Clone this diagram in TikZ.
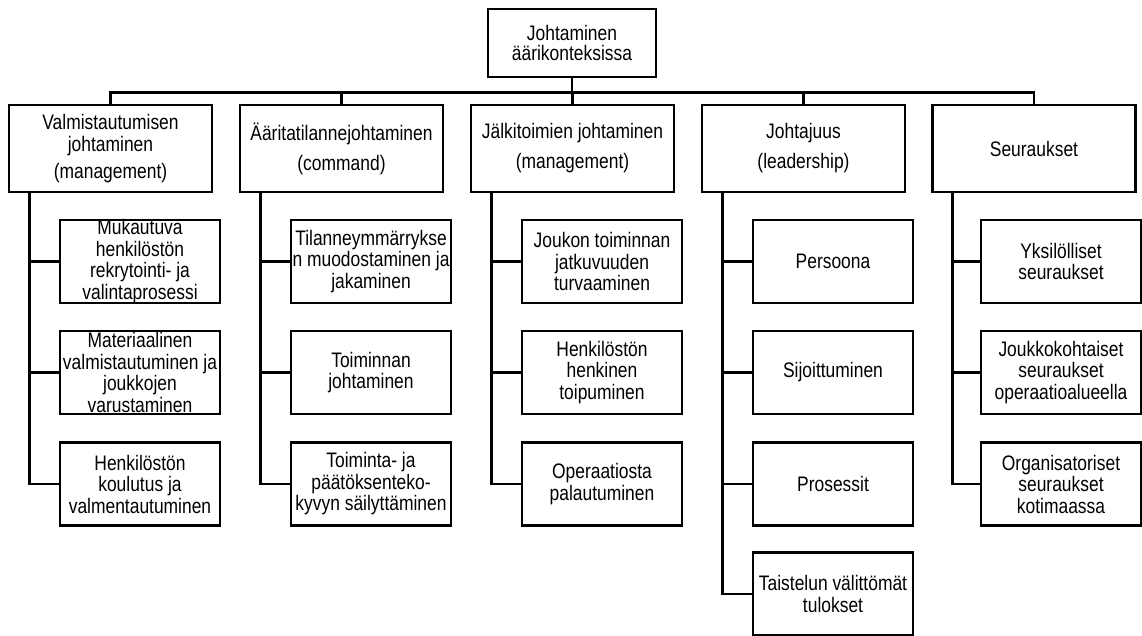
\documentclass[tikz,border=0pt]{standalone}
\usepackage{fontspec}
\setmainfont[FakeStretch=0.83]{Liberation Sans}
\begin{document}
\begin{tikzpicture}[x=1pt,y=-1pt,
  box/.style={draw=black, line width=2.8pt, inner sep=0pt, rectangle},
  topbox/.style={box, minimum width=168pt, minimum height=68pt},
  lvlbox/.style={box, minimum width=203pt, minimum height=87pt},
  leafbox/.style={box, minimum width=160pt, minimum height=83pt},
  txt/.style={inner sep=0pt, align=center, font=\fontsize{21}{21.5}\selectfont},
  conn/.style={line width=2.8pt, line join=miter}]
\useasboundingbox (0,0) rectangle (1142,636);
% root
\node[topbox] (root) at (572,43) {};
\node[txt, font=\fontsize{21}{19.5}\selectfont] (troot) at (root) {Johtaminen\\äärikonteksissa};
% level 1
\node[lvlbox] (b1) at (110.5,148.5) {};
\node[lvlbox] (b2) at (341.5,148.5) {};
\node[lvlbox] (b3) at (572.5,148.5) {};
\node[lvlbox] (b4) at (803.5,148.5) {};
\node[lvlbox] (b5) at (1034,148.5) {};
\node[txt] (tb1) at (b1) {Valmistautumisen\\johtaminen\\[5.5pt](management)};
\node[txt] (tb2) at (b2) {Ääritatilannejohtaminen\\[8.5pt](command)};
\node[txt] (tb3) at (b3) {Jälkitoimien johtaminen\\[8.5pt](management)};
\node[txt] (tb4) at (b4) {Johtajuus\\[8.5pt](leadership)};
\node[txt] (tb5) at (b5) {Seuraukset};
% leaves column 1
\node[leafbox] (c11) at (140,261.5) {};
\node[leafbox] (c12) at (140,372.5) {};
\node[leafbox] (c13) at (140,484) {};
\node[txt] (t11) at (c11) {Mukautuva\\henkilöstön\\rekrytointi- ja\\valintaprosessi};
\node[txt] (t12) at (c12) {Materiaalinen\\valmistautuminen ja\\joukkojen\\varustaminen};
\node[txt] (t13) at (c13) {Henkilöstön\\koulutus ja\\valmentautuminen};
% column 2
\node[leafbox] (c21) at (371,261.5) {};
\node[leafbox] (c22) at (371,372.5) {};
\node[leafbox] (c23) at (371,484) {};
\node[txt] (t21) at (c21) {Tilanneymmärrykse\\n muodostaminen ja\\jakaminen};
\node[txt] (t22) at (c22) {Toiminnan\\johtaminen};
\node[txt] (t23) at (c23) {Toiminta- ja\\päätöksenteko-\\kyvyn säilyttäminen};
% column 3
\node[leafbox] (c31) at (602,261.5) {};
\node[leafbox] (c32) at (602,372.5) {};
\node[leafbox] (c33) at (602,484) {};
\node[txt] (t31) at (c31) {Joukon toiminnan\\jatkuvuuden\\turvaaminen};
\node[txt] (t32) at (c32) {Henkilöstön\\henkinen\\toipuminen};
\node[txt] (t33) at (c33) {Operaatiosta\\palautuminen};
% column 4
\node[leafbox] (c41) at (833,261.5) {};
\node[leafbox] (c42) at (833,372.5) {};
\node[leafbox] (c43) at (833,484) {};
\node[leafbox] (c44) at (833,594) {};
\node[txt] (t41) at (c41) {Persoona};
\node[txt] (t42) at (c42) {Sijoittuminen};
\node[txt] (t43) at (c43) {Prosessit};
\node[txt] (t44) at (c44) {Taistelun välittömät\\tulokset};
% column 5
\node[leafbox] (c51) at (1061,261.5) {};
\node[leafbox] (c52) at (1061,372.5) {};
\node[leafbox] (c53) at (1061,484) {};
\node[txt] (t51) at (c51) {Yksilölliset\\seuraukset};
\node[txt] (t52) at (c52) {Joukkokohtaiset\\seuraukset\\operaatioalueella};
\node[txt] (t53) at (c53) {Organisatoriset\\seuraukset\\kotimaassa};
% root to level 1
\foreach \b in {b1,b2,b3,b4,b5}
  \draw[conn] (root.south) -- ++(0,14) -| (\b.north);
% level 1 to leaves
\foreach \p/\c in {b1/c11,b1/c12,b1/c13,b2/c21,b2/c22,b2/c23,b3/c31,b3/c32,b3/c33,b4/c41,b4/c42,b4/c43,b4/c44,b5/c51,b5/c52,b5/c53}
  \draw[conn] (\p.south west) ++(21.5,0) |- (\c.west);
\end{tikzpicture}
\end{document}
